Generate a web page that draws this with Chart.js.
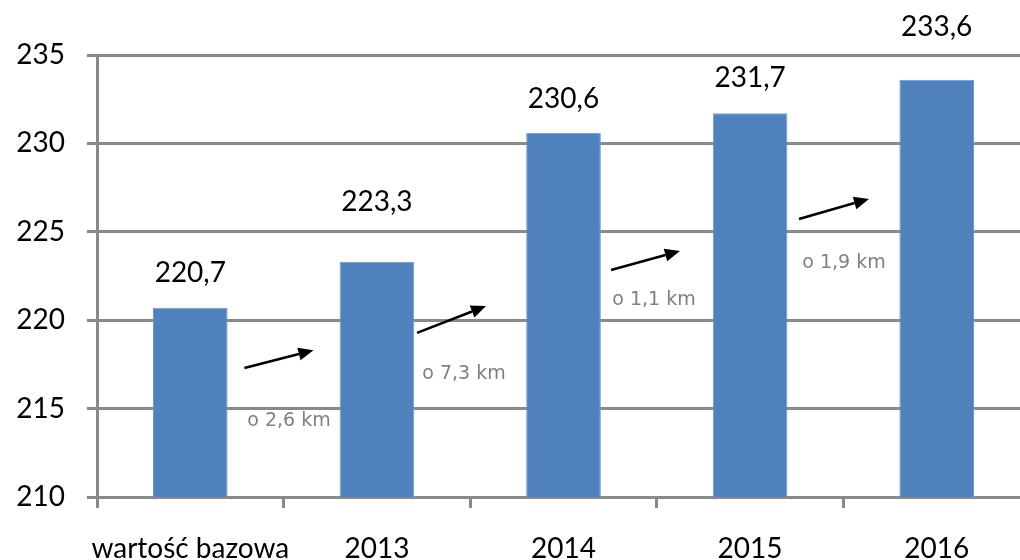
<!DOCTYPE html>
<html>
<head>
<meta charset="utf-8">
<script src="https://cdn.jsdelivr.net/npm/chart.js@4/dist/chart.umd.min.js"></script>
<style>
  html, body { margin: 0; padding: 0; background: #fff; overflow: hidden; width: 1020px; height: 560px; }
  canvas { display: block; }
</style>
</head>
<body>
<canvas id="myBarChart" width="1030" height="600"></canvas>
<script>
// Data
var categories = ["wartość bazowa", "2013", "2014", "2015", "2016"];
var lengths = [220.7, 223.3, 230.6, 231.7, 233.6];
var valueLabels = ["220,7", "223,3", "230,6", "231,7", "233,6"];
var changeLabels = ["o 2,6 km", "o 7,3 km", "o 1,1 km", "o 1,9 km"];
var yTicks = [210, 215, 220, 225, 230, 235];

var gridGray = '#898989';

// Draws the value labels, arrows and change notes in data units through the scales
var annotationsPlugin = {
    id: 'annotations',
    afterDatasetsDraw: function (chart, args, opts) {
        var ctx = chart.ctx;
        var x = chart.scales.x;
        var y = chart.scales.y;
        ctx.save();

        // value labels above bars
        ctx.fillStyle = '#000';
        ctx.font = '28px Lato';
        ctx.textAlign = 'center';
        ctx.textBaseline = 'alphabetic';
        valueLabels.forEach(function (txt, i) {
            ctx.fillText(txt, x.getPixelForValue(i), y.getPixelForValue(opts.valueLabelY[i]));
        });

        // arrows between bars
        ctx.strokeStyle = '#000';
        ctx.fillStyle = '#000';
        ctx.lineWidth = 2.5;
        opts.arrows.forEach(function (a) {
            var x1 = x.getPixelForValue(a[0]), y1 = y.getPixelForValue(a[1]);
            var x2 = x.getPixelForValue(a[2]), y2 = y.getPixelForValue(a[3]);
            var ang = Math.atan2(y2 - y1, x2 - x1);
            var head = 15, half = 6.5;
            var bx = x2 - head * Math.cos(ang), by = y2 - head * Math.sin(ang);
            ctx.beginPath();
            ctx.moveTo(x1, y1);
            ctx.lineTo(bx, by);
            ctx.stroke();
            ctx.beginPath();
            ctx.moveTo(x2, y2);
            ctx.lineTo(bx + half * Math.sin(ang), by - half * Math.cos(ang));
            ctx.lineTo(bx - half * Math.sin(ang), by + half * Math.cos(ang));
            ctx.closePath();
            ctx.fill();
        });

        // change notes
        ctx.fillStyle = '#808080';
        ctx.font = '19px "DejaVu Sans"';
        ctx.textBaseline = 'middle';
        changeLabels.forEach(function (txt, i) {
            var p = opts.changeLabelPos[i];
            ctx.fillText(txt, x.getPixelForValue(p[0]), y.getPixelForValue(p[1]));
        });
        ctx.restore();
    }
};

function createBarChart() {
    var ctx = document.getElementById('myBarChart').getContext('2d');

    var barChart = new Chart(ctx, {
        type: 'bar',
        data: {
            labels: categories,
            datasets: [{
                data: lengths,
                backgroundColor: '#4f81bd',
                borderColor: '#6f97c9',
                borderWidth: 1,
                categoryPercentage: 1,
                barPercentage: 0.4
            }]
        },
        options: {
            responsive: false,
            animation: false,
            devicePixelRatio: 1,
            layout: { padding: { top: 55, right: 0, bottom: 0, left: 0 } },
            plugins: {
                legend: { display: false },
                tooltip: { enabled: false },
                annotations: {
                    valueLabelY: [222.15, 226.2, 232.0, 233.2, 236.1],
                    // [x1, y1, x2, y2] in category index / km units
                    arrows: [
                        [0.29, 217.3, 0.66, 218.3],
                        [1.215, 219.28, 1.585, 220.8],
                        [2.255, 222.84, 2.624, 223.91],
                        [3.262, 225.72, 3.637, 226.86]
                    ],
                    changeLabelPos: [
                        [0.529, 214.3],
                        [1.467, 216.96],
                        [2.485, 221.14],
                        [3.503, 223.24]
                    ]
                }
            },
            scales: {
                x: {
                    afterFit: function (scale) { scale.height = 103; },
                    grid: {
                        offset: true,
                        drawOnChartArea: false,
                        drawTicks: true,
                        tickLength: 11,
                        color: gridGray,
                        lineWidth: 3
                    },
                    border: { display: false },
                    ticks: {
                        color: '#000',
                        font: { family: 'Lato', size: 28 },
                        padding: 24,
                        maxRotation: 0,
                        autoSkip: false
                    }
                },
                y: {
                    min: 210,
                    max: 235,
                    afterFit: function (scale) { scale.width = 97; },
                    afterBuildTicks: function (scale) {
                        scale.ticks = yTicks.map(function (v) { return { value: v }; });
                    },
                    grid: {
                        color: gridGray,
                        lineWidth: 3,
                        tickLength: 10
                    },
                    border: { display: true, color: gridGray, width: 3 },
                    ticks: {
                        color: '#000',
                        font: { family: 'Lato', size: 28 },
                        padding: 22
                    }
                }
            }
        },
        plugins: [annotationsPlugin]
    });
}

createBarChart();
</script>
</body>
</html>
